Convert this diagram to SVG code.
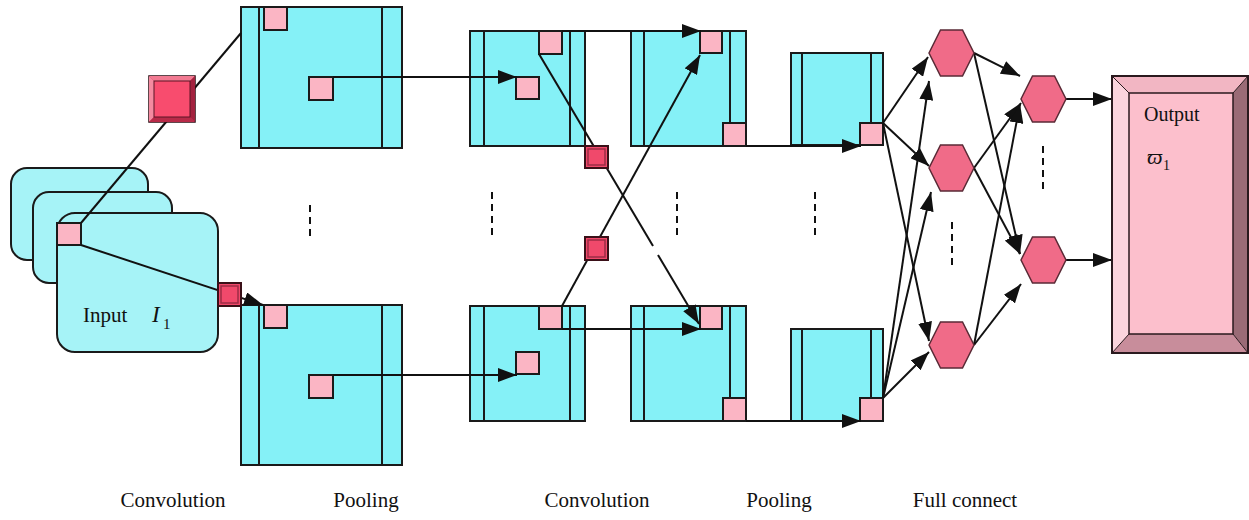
<svg xmlns="http://www.w3.org/2000/svg" xmlns:xlink="http://www.w3.org/1999/xlink" width="1249" height="520" viewBox="0 0 1249 520">
  <style>
    .fm { fill: #85f1f7; stroke: #1a1a1a; stroke-width: 2; }
    .in { fill: #a6f3f7; stroke: #1a1a1a; stroke-width: 2; }
    .div { stroke: #1a1a1a; stroke-width: 2; fill: none; }
    .px { fill: #fbb5c4; stroke: #1a1a1a; stroke-width: 2; }
    .kr { fill: #f0496b; stroke: #3a1018; stroke-width: 2; }
    .kr2 { fill: none; stroke: #9c2c46; stroke-width: 1.5; }
    .hx { fill: #f06b88; stroke: #5a2a36; stroke-width: 1.5; }
    .ln { stroke: #111; stroke-width: 2; fill: none; }
    .ar { stroke: #111; stroke-width: 2; fill: none; marker-end: url(#ah); }
    .dash { stroke: #111; stroke-width: 2; stroke-dasharray: 7 5; fill: none; }
    .t { font-family: "Liberation Serif", "Times New Roman", serif; fill: #111; }
  </style>
  <defs>
    <marker id="ah" markerUnits="userSpaceOnUse" markerWidth="20" markerHeight="14" refX="19" refY="7" orient="auto">
      <path d="M0,0 L19,7 L0,14 z" fill="#111"/>
    </marker>
    <polygon id="hex" points="-22.5,0 -11,-23 11,-23 22.5,0 11,23 -11,23"/>
  </defs>

  <rect width="1249" height="520" fill="#ffffff"/>

  <!-- input image stack -->
  <g id="input">
    <rect class="in" x="11" y="168" width="137" height="92" rx="16" fill="#92eff5"/>
    <rect class="in" x="33" y="192" width="139" height="91" rx="16" fill="#9cf1f6"/>
    <rect class="in" x="57" y="213" width="161" height="139" rx="18"/>
    <rect class="px" x="57" y="223" width="24" height="22"/>
    <text class="t" x="83" y="322" font-size="21">Input</text>
    <text class="t" x="152" y="322" font-size="23" font-style="italic">I</text>
    <text class="t" x="163" y="329" font-size="15">1</text>
  </g>

  <!-- first feature maps -->
  <g id="map-1a">
    <rect class="fm" x="241" y="7" width="161" height="141"/>
    <line class="div" x1="259" y1="7" x2="259" y2="148"/>
    <line class="div" x1="382" y1="7" x2="382" y2="148"/>
    <rect class="px" x="264" y="7" width="23" height="23"/>
    <rect class="px" x="309" y="77" width="24" height="23"/>
  </g>
  <g id="map-1b">
    <rect class="fm" x="241" y="305" width="161" height="160"/>
    <line class="div" x1="259" y1="305" x2="259" y2="465"/>
    <line class="div" x1="382" y1="305" x2="382" y2="465"/>
    <rect class="px" x="264" y="305" width="23" height="23"/>
    <rect class="px" x="309" y="375" width="24" height="23"/>
  </g>

  <!-- second convolution maps -->
  <g id="map-2a">
    <rect class="fm" x="470" y="31" width="115" height="115"/>
    <line class="div" x1="484" y1="31" x2="484" y2="146"/>
    <line class="div" x1="570" y1="31" x2="570" y2="146"/>
    <rect class="px" x="539" y="31" width="23" height="23"/>
    <rect class="px" x="516" y="77" width="23" height="22"/>
  </g>
  <g id="map-2b">
    <rect class="fm" x="470" y="306" width="115" height="115"/>
    <line class="div" x1="484" y1="306" x2="484" y2="421"/>
    <line class="div" x1="570" y1="306" x2="570" y2="421"/>
    <rect class="px" x="539" y="306" width="23" height="23"/>
    <rect class="px" x="516" y="352" width="23" height="22"/>
  </g>

  <!-- second pooling maps -->
  <g id="map-3a">
    <rect class="fm" x="631" y="31" width="115" height="115"/>
    <line class="div" x1="644" y1="31" x2="644" y2="146"/>
    <line class="div" x1="730" y1="31" x2="730" y2="123"/>
    <rect class="px" x="700" y="31" width="22" height="22"/>
    <rect class="px" x="723" y="123" width="23" height="23"/>
  </g>
  <g id="map-3b">
    <rect class="fm" x="631" y="306" width="115" height="115"/>
    <line class="div" x1="644" y1="306" x2="644" y2="421"/>
    <line class="div" x1="730" y1="306" x2="730" y2="398"/>
    <rect class="px" x="700" y="306" width="22" height="23"/>
    <rect class="px" x="723" y="398" width="23" height="23"/>
  </g>

  <!-- last feature maps -->
  <g id="map-4a">
    <rect class="fm" x="791" y="53" width="92" height="92"/>
    <line class="div" x1="802" y1="53" x2="802" y2="145"/>
    <line class="div" x1="871" y1="53" x2="871" y2="123"/>
    <rect class="px" x="860" y="123" width="23" height="22"/>
  </g>
  <g id="map-4b">
    <rect class="fm" x="791" y="329" width="92" height="92"/>
    <line class="div" x1="802" y1="329" x2="802" y2="421"/>
    <line class="div" x1="871" y1="329" x2="871" y2="398"/>
    <rect class="px" x="860" y="398" width="23" height="23"/>
  </g>

  <!-- connectors -->
  <g id="connectors">
    <!-- input to first feature maps -->
    <line class="ln" x1="81" y1="223" x2="241" y2="33"/>
    <line class="ar" x1="81" y1="245" x2="263" y2="305"/>
    <!-- pooling to second convolution -->
    <line class="ar" x1="333" y1="77" x2="517" y2="77"/>
    <line class="ar" x1="333" y1="375" x2="517" y2="375"/>
    <!-- second convolution to second pooling -->
    <line class="ar" x1="562" y1="31" x2="701" y2="31"/>
    <line class="ar" x1="562" y1="329" x2="701" y2="329"/>
    <line class="ln" x1="539" y1="54" x2="653" y2="246"/>
    <line class="ar" x1="658" y1="255" x2="699" y2="324"/>
    <line class="ar" x1="562" y1="306" x2="700" y2="55"/>
    <!-- pooling to last maps -->
    <line class="ar" x1="746" y1="146" x2="861" y2="146"/>
    <line class="ar" x1="746" y1="421" x2="861" y2="421"/>
    <!-- last maps to first hidden layer -->
    <line class="ar" x1="883" y1="123" x2="928" y2="57"/>
    <line class="ar" x1="883" y1="123" x2="929" y2="166"/>
    <line class="ar" x1="883" y1="123" x2="929" y2="341"/>
    <line class="ar" x1="883" y1="398" x2="929" y2="81"/>
    <line class="ar" x1="883" y1="398" x2="931" y2="192"/>
    <line class="ar" x1="883" y1="398" x2="929" y2="352"/>
    <!-- first hidden layer to second hidden layer -->
    <line class="ar" x1="974" y1="53" x2="1020" y2="76"/>
    <line class="ar" x1="974" y1="53" x2="1020" y2="254"/>
    <line class="ar" x1="974" y1="168" x2="1021" y2="103"/>
    <line class="ar" x1="974" y1="168" x2="1020" y2="254"/>
    <line class="ar" x1="974" y1="345" x2="1020" y2="104"/>
    <line class="ar" x1="974" y1="345" x2="1021" y2="284"/>
    <!-- second hidden layer to output -->
    <line class="ar" x1="1066" y1="99" x2="1112" y2="99"/>
    <line class="ar" x1="1066" y1="260" x2="1112" y2="260"/>
  </g>

  <!-- first convolution kernels -->
  <g id="kernel-a">
    <rect x="149" y="76" width="46" height="46" fill="#c23454" stroke="#2a0c12" stroke-width="1.5"/>
    <polygon points="149,76 195,76 190,81 154,81" fill="#f27a92"/>
    <polygon points="149,76 154,81 154,117 149,122" fill="#f58aa0"/>
    <polygon points="195,76 195,122 190,117 190,81" fill="#a3223f"/>
    <polygon points="149,122 195,122 190,117 154,117" fill="#b82a48"/>
    <rect x="154" y="81" width="36" height="36" fill="#f84c6e" stroke="#5a1424" stroke-width="1"/>
  </g>
  <g id="kernel-b">
    <rect class="kr" x="218" y="283" width="23" height="23"/>
    <rect class="kr2" x="221" y="286" width="17" height="17"/>
  </g>

  <!-- second convolution kernels -->
  <g id="kernel-c">
    <rect class="kr" x="585" y="146" width="23" height="22"/>
    <rect class="kr2" x="588" y="149" width="17" height="16"/>
  </g>
  <g id="kernel-d">
    <rect class="kr" x="585" y="237" width="23" height="23"/>
    <rect class="kr2" x="588" y="240" width="17" height="17"/>
  </g>

  <!-- ellipsis marks -->
  <g id="ellipses">
    <line class="dash" x1="310" y1="205" x2="310" y2="240"/>
    <line class="dash" x1="492" y1="192" x2="492" y2="239"/>
    <line class="dash" x1="677" y1="192" x2="677" y2="239"/>
    <line class="dash" x1="815" y1="192" x2="815" y2="239"/>
    <line class="dash" x1="952" y1="222" x2="952" y2="268"/>
    <line class="dash" x1="1043" y1="146" x2="1043" y2="192"/>
  </g>

  <!-- fully connected neurons -->
  <g id="fc-1"><use xlink:href="#hex" class="hx" x="951.5" y="53"/></g>
  <g id="fc-2"><use xlink:href="#hex" class="hx" x="951.5" y="168"/></g>
  <g id="fc-3"><use xlink:href="#hex" class="hx" x="951.5" y="345"/></g>
  <g id="fc-4"><use xlink:href="#hex" class="hx" x="1043.5" y="99"/></g>
  <g id="fc-5"><use xlink:href="#hex" class="hx" x="1043.5" y="260"/></g>

  <!-- output block -->
  <g id="output">
    <polygon points="1112,76 1248,76 1233,93 1129,93" fill="#f2b6c3"/>
    <polygon points="1112,76 1129,93 1129,334 1112,353" fill="#fbd4dd"/>
    <polygon points="1248,76 1248,353 1233,334 1233,93" fill="#9a6b76"/>
    <polygon points="1112,353 1248,353 1233,334 1129,334" fill="#c88d9b"/>
    <rect x="1129" y="93" width="104" height="241" fill="#fcbfcc" stroke="#2a1a1e" stroke-width="1.5"/>
    <rect x="1112" y="76" width="136" height="277" fill="none" stroke="#2a1a1e" stroke-width="2"/>
    <line x1="1112" y1="76" x2="1129" y2="93" stroke="#2a1a1e" stroke-width="1"/>
    <line x1="1248" y1="76" x2="1233" y2="93" stroke="#2a1a1e" stroke-width="1"/>
    <line x1="1112" y1="353" x2="1129" y2="334" stroke="#2a1a1e" stroke-width="1"/>
    <line x1="1248" y1="353" x2="1233" y2="334" stroke="#2a1a1e" stroke-width="1"/>
    <text class="t" x="1144" y="121" font-size="20">Output</text>
    <text class="t" x="1147" y="164" font-size="22" font-style="italic">ϖ</text>
    <text class="t" x="1163" y="170" font-size="14">1</text>
  </g>

  <!-- layer captions -->
  <g id="captions" class="t" font-size="21" text-anchor="middle">
    <text x="173" y="507">Convolution</text>
    <text x="366" y="507">Pooling</text>
    <text x="597" y="507">Convolution</text>
    <text x="779" y="507">Pooling</text>
    <text x="965" y="507">Full connect</text>
  </g>
</svg>
